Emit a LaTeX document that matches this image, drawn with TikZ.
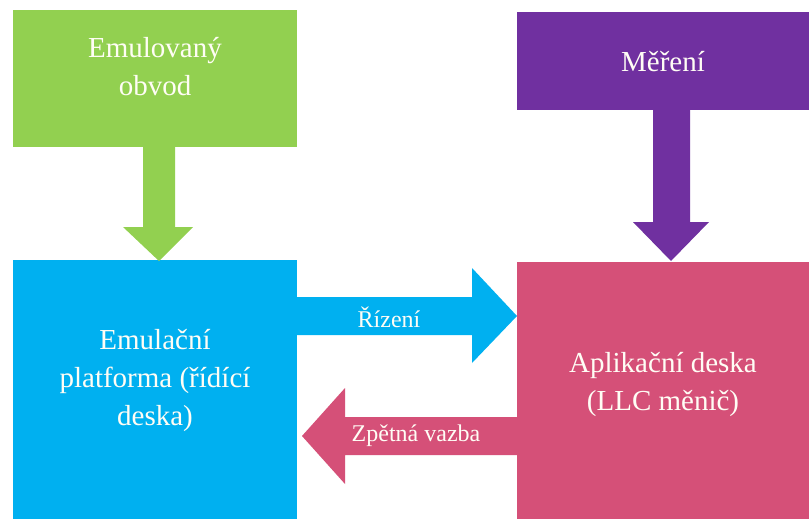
\documentclass[tikz,border=0pt]{standalone}
\usepackage{fontspec}
\setmainfont{Liberation Serif}
\definecolor{cgreen}{HTML}{92D050}
\definecolor{cblue}{HTML}{00B0F0}
\definecolor{cpurple}{HTML}{7030A0}
\definecolor{cpink}{HTML}{D55078}
\definecolor{ctext}{HTML}{FFFDF5}
\begin{document}
\begin{tikzpicture}[x=1pt,y=-1pt,
  box/.style={inner sep=0pt,outer sep=0pt,text=ctext,align=center,font=\fontsize{29}{38}\selectfont},
  lbl/.style={inner sep=0pt,text=ctext,font=\fontsize{24}{28}\selectfont}]
\useasboundingbox[fill=white] (0,0) rectangle (809,519);
% boxes
\fill[cgreen] (13,10) rectangle (297,147);
\node[box] (g) at (155,67) {Emulovaný\\obvod};
\fill[cpurple] (517,12) rectangle (809,110);
\node[box] (m) at (663,62) {Měření};
\fill[cblue] (13,260) rectangle (297,519);
\node[box] (e) at (155,380) {Emulační\\platforma (řídící\\deska)};
\fill[cpink] (517,262) rectangle (809,519);
\node[box] (a) at (663,384) {Aplikační deska\\(LLC měnič)};
% arrows
\fill[cgreen] (143,147) -- (175,147) -- (175,227) -- (193,227) -- (159,261) -- (123,227) -- (143,227) -- cycle;
\fill[cpurple] (653,110) -- (690,110) -- (690,222) -- (709,222) -- (671,261) -- (633,222) -- (653,222) -- cycle;
\fill[cblue] (297,297) -- (472,297) -- (472,268) -- (517,316) -- (472,363) -- (472,335) -- (297,335) -- cycle;
\fill[cpink] (517,417) -- (345,417) -- (345,388) -- (302,436) -- (345,484) -- (345,455) -- (517,455) -- cycle;
\node[lbl] (r) at (389,317) {Řízení};
\node[lbl] (z) at (416,436) {Zpětná vazba};
\end{tikzpicture}
\end{document}
